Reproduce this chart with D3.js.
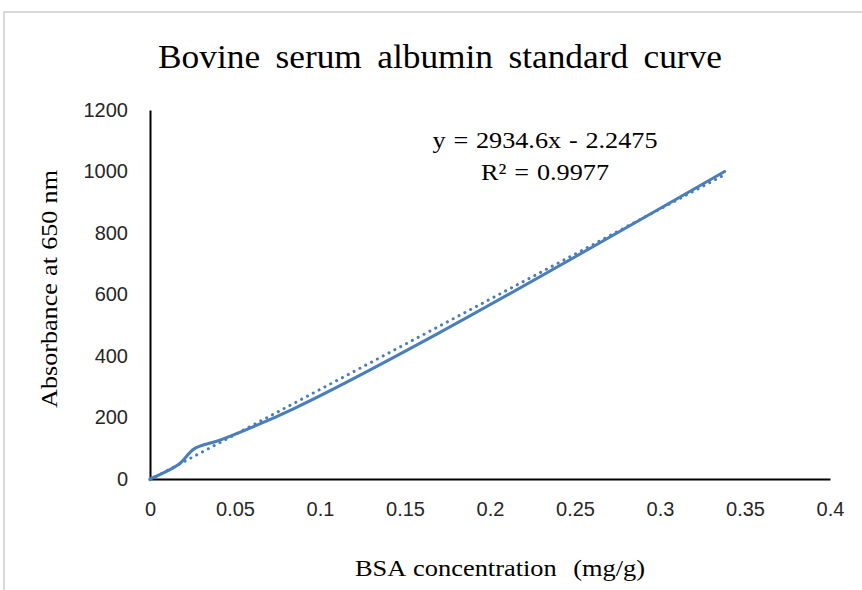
<!DOCTYPE html>
<html>
<head>
<meta charset="utf-8">
<script src="https://cdn.jsdelivr.net/npm/d3@7"></script>
<style>
  body { margin: 0; background: #fff; }
  svg { display: block; }
</style>
</head>
<body>
<div id="chart"></div>
<script>
// standard points
var concentration = [0, 0.017, 0.026, 0.042, 0.085, 0.169, 0.338];
var absorbance = [0, 48, 98, 128, 230, 472, 1000];

// linear trendline reported on the chart
var trendSlope = 2934.6;
var trendIntercept = -2.2475;
var trendRange = [0, 0.338];

var xTicks = [0, 0.05, 0.1, 0.15, 0.2, 0.25, 0.3, 0.35, 0.4];
var yTicks = [0, 200, 400, 600, 800, 1000, 1200];

var W = 862, H = 590;
var blue = "#4a7ebb";
var serif = "'Liberation Serif', 'Times New Roman', serif";
var sans = "'Liberation Sans', Arial, sans-serif";

var svg = d3.select("#chart").append("svg")
  .attr("width", W)
  .attr("height", H);

svg.append("rect")
  .attr("width", W).attr("height", H)
  .attr("fill", "#fff");

// chart frame (cut off at right and bottom)
svg.append("rect")
  .attr("x", 4).attr("y", 12)
  .attr("width", W + 20).attr("height", H + 20)
  .attr("fill", "none")
  .attr("stroke", "#d9d9d9")
  .attr("stroke-width", 2);

var x = d3.scaleLinear().domain([0, 0.4]).range([150, 830]);
var y = d3.scaleLinear().domain([0, 1200]).range([479, 110]);

// axes (no tick marks, just the lines and labels)
var xAxis = svg.append("g")
  .attr("transform", "translate(0," + y(0) + ")")
  .call(d3.axisBottom(x).tickValues(xTicks).tickSize(0).tickPadding(23)
    .tickFormat(d => String(d)));
xAxis.select(".domain").attr("stroke", "#000").attr("stroke-width", 2);
xAxis.selectAll("text")
  .attr("font-family", sans).attr("font-size", 20).attr("fill", "#262626");

var yAxis = svg.append("g")
  .attr("transform", "translate(" + x(0) + ",0)")
  .call(d3.axisLeft(y).tickValues(yTicks).tickSize(0).tickPadding(22)
    .tickFormat(d => String(d)));
yAxis.select(".domain").attr("stroke", "#000").attr("stroke-width", 2);
yAxis.selectAll("text")
  .attr("font-family", sans).attr("font-size", 20).attr("fill", "#262626");

// trendline (dotted)
var trendPts = trendRange.map(v => [v, trendSlope * v + trendIntercept]);
svg.append("path")
  .datum(trendPts)
  .attr("fill", "none")
  .attr("stroke", blue)
  .attr("stroke-width", 3)
  .attr("stroke-linecap", "round")
  .attr("stroke-dasharray", "0.1 6.5")
  .attr("d", d3.line().x(d => x(d[0])).y(d => y(d[1])));

// smoothed data line
var pts = concentration.map((c, i) => [c, absorbance[i]]);
svg.append("path")
  .datum(pts)
  .attr("fill", "none")
  .attr("stroke", blue)
  .attr("stroke-width", 3)
  .attr("stroke-linecap", "round")
  .attr("d", d3.line().curve(d3.curveCatmullRom.alpha(0.5))
    .x(d => x(d[0])).y(d => y(d[1])));

// serif labels: glyphs widened by sx, word gaps fill up to the reference width
function serifText(str, px, py, size, width, sx, rotate) {
  var g = svg.append("g")
    .attr("transform", "translate(" + px + "," + py + ")" + (rotate ? " rotate(-90)" : "") +
      " scale(" + sx + ",1)");
  var t = g.append("text")
    .attr("text-anchor", "middle")
    .attr("font-family", serif)
    .attr("font-size", size)
    .attr("fill", "#000")
    .attr("xml:space", "preserve")
    .style("white-space", "pre")
    .text(str);
  var gaps = str.split(" ").length - 1;
  var w = t.node().getComputedTextLength();
  if (gaps > 0) t.attr("word-spacing", Math.max(0, (width / sx - w) / gaps));
  return t;
}

serifText("Bovine serum albumin standard curve", 440, 68, 34, 564, 1.04);
serifText("y = 2934.6x - 2.2475", 545, 148, 23, 225, 1.14);
serifText("R² = 0.9977", 545, 180, 23, 128, 1.14);
serifText("BSA concentration  (mg/g)", 500, 576, 24, 290, 1.1);
serifText("Absorbance at 650 nm", 57, 289, 24, 238, 1.09, true);
</script>
</body>
</html>
